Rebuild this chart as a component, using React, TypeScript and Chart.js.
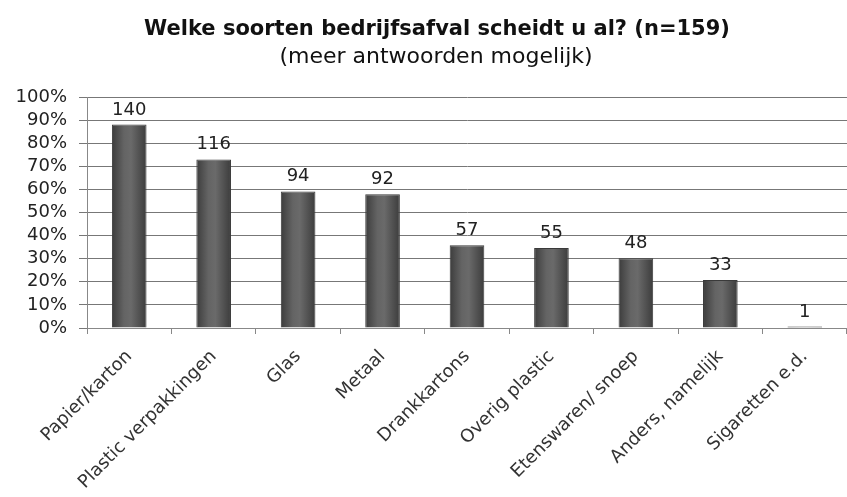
import React, { useEffect, useRef } from "react";
import { Chart, registerables } from "chart.js";

Chart.register(...registerables);

const categories = [
  "Papier/karton",
  "Plastic verpakkingen",
  "Glas",
  "Metaal",
  "Drankkartons",
  "Overig plastic",
  "Etenswaren/ snoep",
  "Anders, namelijk",
  "Sigaretten e.d.",
];
const counts = [140, 116, 94, 92, 57, 55, 48, 33, 1];
const total = 159;
const percentages = counts.map((c) => (c / total) * 100);
const titleText = "Welke soorten bedrijfsafval scheidt u al? (n=159)";
const subtitleText = "(meer antwoorden mogelijk)";

const FONT = "'DejaVu Sans', Arial, sans-serif";
const BAR_PCT = 0.41;

const countLabels = {
  id: "countLabels",
  afterDatasetsDraw(chart: any) {
    const ctx = chart.ctx;
    const meta = chart.getDatasetMeta(0);
    ctx.save();
    ctx.font = "18px " + FONT;
    ctx.fillStyle = "#222";
    ctx.textAlign = "center";
    ctx.textBaseline = "alphabetic";
    meta.data.forEach((bar: any, i: number) => {
      ctx.fillText(String(counts[i]), bar.x, bar.y - 10);
    });
    ctx.restore();
  },
};

const headings = {
  id: "headings",
  afterDraw(chart: any) {
    const ctx = chart.ctx;
    ctx.save();
    ctx.fillStyle = "#111";
    ctx.textAlign = "center";
    ctx.textBaseline = "middle";
    ctx.font = "bold 21px " + FONT;
    ctx.fillText(titleText, 437, 30);
    ctx.font = "22px " + FONT;
    ctx.fillText(subtitleText, 436, 57);
    ctx.restore();
  },
};

function barGradient(c: any) {
  const chart = c.chart;
  const xs = chart.scales && chart.scales.x;
  if (!xs || c.dataIndex === undefined) return "#555";
  const cx = xs.getPixelForValue(c.dataIndex);
  const w = (xs.width / categories.length) * BAR_PCT;
  if (!isFinite(cx) || !isFinite(w)) return "#555";
  const g = chart.ctx.createLinearGradient(cx - w / 2, 0, cx + w / 2, 0);
  g.addColorStop(0, "#3c3c3c");
  g.addColorStop(0.35, "#646464");
  g.addColorStop(0.55, "#6a6a6a");
  g.addColorStop(1, "#3c3c3c");
  return g;
}

export default function App() {
  const ref = useRef<HTMLCanvasElement>(null);
  useEffect(() => {
    document.body.style.margin = "0";
    const chart = new Chart(ref.current!, {
      type: "bar",
      data: {
        labels: categories,
        datasets: [
          {
            data: percentages,
            backgroundColor: barGradient,
            borderColor: "#3a3a3a",
            borderWidth: 1,
            barPercentage: BAR_PCT,
            categoryPercentage: 1,
          },
        ],
      },
      options: {
        animation: false,
        responsive: false,
        layout: { padding: { left: 0, right: 0, top: 97, bottom: 0 } },
        plugins: {
          legend: { display: false },
          tooltip: { enabled: false },
          title: { display: false },
          subtitle: { display: false },
        },
        scales: {
          x: {
            grid: { drawOnChartArea: false, drawTicks: true, tickLength: 6, color: "#888" },
            border: { color: "#888" },
            ticks: {
              maxRotation: 45,
              minRotation: 45,
              autoSkip: false,
              color: "#333",
              font: { family: FONT, size: 18 },
              padding: 12,
            },
            afterFit: (scale: any) => {
              scale.height = 169;
            },
          },
          y: {
            min: 0,
            max: 100,
            grid: { color: "#777", tickLength: 8 },
            border: { color: "#888" },
            ticks: {
              stepSize: 10,
              autoSkip: false,
              callback: (v: any) => v + "%",
              color: "#222",
              font: { family: FONT, size: 18 },
              padding: 12,
            },
            afterFit: (scale: any) => {
              scale.width = 87;
            },
          },
        },
      },
      plugins: [countLabels, headings],
    });
    return () => chart.destroy();
  }, []);
  return (
    <div style={{ position: "fixed", left: 0, top: 0, width: 847, height: 497, background: "#fff" }}>
      <canvas ref={ref} width={847} height={497} />
    </div>
  );
}
